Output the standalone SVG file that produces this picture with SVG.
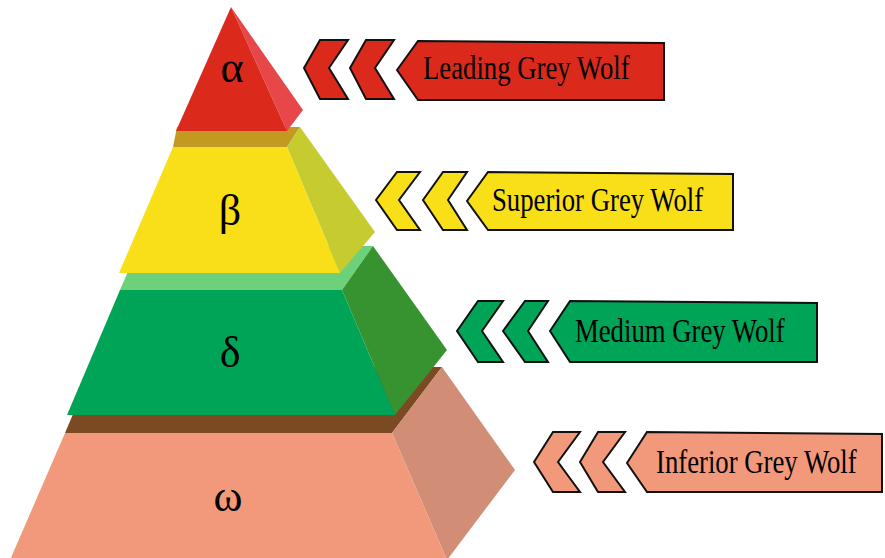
<svg xmlns="http://www.w3.org/2000/svg" width="885" height="558" viewBox="0 0 885 558">
<style>
.greek{font-family:"Liberation Serif","Times New Roman",serif;font-size:44px;fill:#000;text-anchor:middle}
.lbl{font-family:"Liberation Serif","Times New Roman",serif;font-size:33px;fill:#000}
.ol{stroke:#111;stroke-width:2;stroke-linejoin:miter}
.red{fill:#DB2A1C}.yel{fill:#F8DF17}.grn{fill:#00A457}.org{fill:#F2997B}
</style>
<rect width="885" height="558" fill="#fff"/>
<g id="omega">
<polygon points="93,367 442,367 392,433 65,433" fill="#7B4A23"/>
<polygon points="392,433 442,367 515,470 447,560" fill="#D28D77"/>
<polygon points="65,433 392,433 447,560 10,560" fill="#F2997B"/>
<text class="greek" x="228" y="511">ω</text>
</g>
<g id="delta">
<polygon points="139,246 373,246 342,290 120,290" fill="#6CD17A"/>
<polygon points="342,290 373,246 447,350 395,415" fill="#379330"/>
<polygon points="120,290 342,290 395,415 67,415" fill="#00A457"/>
<text class="greek" x="230" y="367">δ</text>
</g>
<g id="beta">
<polygon points="177,127 300,127 287,147 173,147" fill="#C29A22"/>
<polygon points="287,147 300,127 375,232 340,273" fill="#C6CC30"/>
<polygon points="173,147 287,147 340,273 119,273" fill="#F8DF17"/>
<text class="greek" x="230" y="225">β</text>
</g>
<g id="alpha">
<polygon points="231,7 303,110 287,131" fill="#E8474A"/>
<polygon points="231,7 287,131 176,131" fill="#DB2A1C"/>
<text class="greek" x="232" y="82">α</text>
</g>
<g id="connectors">
<polygon class="ol red" points="304,68 320,40 348,40 329,68 348,99 320,99"/>
<polygon class="ol red" points="350,68 366,40 394,40 375,68 394,99 366,99"/>
<polygon class="ol yel" points="376,200 397,172 420,172 399,200 420,230 397,230"/>
<polygon class="ol yel" points="423,200 443,172 467,172 448,200 467,230 443,230"/>
<polygon class="ol grn" points="457,331 478,301 503,301 482,331 503,362 478,362"/>
<polygon class="ol grn" points="503,331 525,301 548,301 528,331 548,362 525,362"/>
<polygon class="ol org" points="534,462 553,432 580,432 558,462 580,492 553,492"/>
<polygon class="ol org" points="580,462 598,432 625,432 603,462 625,492 598,492"/>
</g>
<g id="label-leading">
<polygon class="ol red" points="397,70 418,41 664,43 664,100 418,100"/>
<text class="lbl" transform="translate(423,79) scale(0.81,1)">Leading Grey Wolf</text>
</g>
<g id="label-superior">
<polygon class="ol yel" points="467,201 488,172 733,174 733,230 488,230"/>
<text class="lbl" transform="translate(492,211) scale(0.81,1)">Superior Grey Wolf</text>
</g>
<g id="label-medium">
<polygon class="ol grn" points="550,331 570,301 817,303 817,362 570,362"/>
<text class="lbl" transform="translate(575,342) scale(0.81,1)">Medium Grey Wolf</text>
</g>
<g id="label-inferior">
<polygon class="ol org" points="627,463 647,432 882,434 882,492 647,492"/>
<text class="lbl" transform="translate(656,473) scale(0.81,1)">Inferior Grey Wolf</text>
</g>
</svg>
